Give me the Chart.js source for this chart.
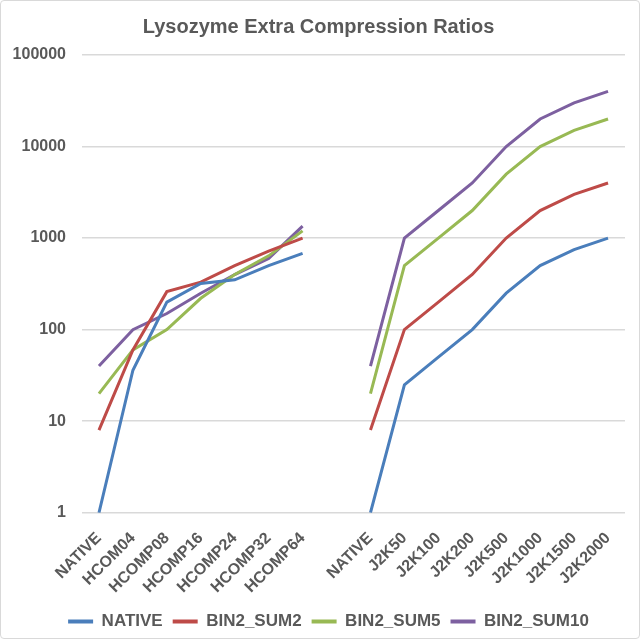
<!DOCTYPE html>
<html>
<head>
<meta charset="utf-8">
<script src="https://cdn.jsdelivr.net/npm/chart.js@4"></script>
<style>
  html, body { margin: 0; padding: 0; background: #fff; }
  #wrap { position: relative; width: 638px; height: 637px; border: 1px solid #d9d9d9; border-radius: 4px; }
</style>
</head>
<body>
<div id="wrap"><canvas id="chart"></canvas></div>
<script>
// categories (index 7 is the empty gap between the two groups)
const categories = ['NATIVE', 'HCOM04', 'HCOMP08', 'HCOMP16', 'HCOMP24', 'HCOMP32', 'HCOMP64', '',
    'NATIVE', 'J2K50', 'J2K100', 'J2K200', 'J2K500', 'J2K1000', 'J2K1500', 'J2K2000'];

const nativeVals = [1, 36, 200, 320, 350, 500, 680, null, 1, 25, 50, 100, 250, 500, 750, 1000];
const sum2Vals = [8, 60, 260, 330, 500, 720, 1000, null, 8, 100, 200, 400, 1000, 2000, 3000, 4000];
const sum5Vals = [20, 60, 100, 220, 400, 640, 1200, null, 20, 500, 1000, 2000, 5000, 10000, 15000, 20000];
const sum10Vals = [40, 100, 150, 250, 400, 600, 1350, null, 40, 1000, 2000, 4000, 10000, 20000, 30000, 40000];

const yTicks = [1, 10, 100, 1000, 10000, 100000];

const textColor = '#595959';
const fontFamily = '"Liberation Sans", Arial, sans-serif';

function series(label, data, color) {
    return {
        label: label,
        data: data,
        borderColor: color,
        backgroundColor: color,
        borderWidth: 3,
        pointRadius: 0,
        tension: 0,
        spanGaps: false
    };
}

// nudge the legend a little, like the original
const legendShift = {
    id: 'legendShift',
    afterLayout: function(chart) {
        if (chart.legend) {
            chart.legend.left += 10;
            chart.legend.right += 10;
            chart.legend.top -= 2;
            chart.legend.bottom -= 2;
        }
    }
};

new Chart(document.getElementById('chart'), {
    type: 'line',
    data: {
        labels: categories,
        datasets: [
            series('NATIVE', nativeVals, '#4a7ebb'),
            series('BIN2_SUM2', sum2Vals, '#be4b48'),
            series('BIN2_SUM5', sum5Vals, '#98b954'),
            series('BIN2_SUM10', sum10Vals, '#7d60a0')
        ]
    },
    plugins: [legendShift],
    options: {
        responsive: true,
        maintainAspectRatio: false,
        animation: false,
        layout: { padding: { left: 11, right: 14, top: 5, bottom: -4 } },
        scales: {
            x: {
                offset: true,
                afterFit: function(scale) {
                    scale.paddingLeft = 0;
                    scale.paddingRight = 0;
                },
                grid: { display: false },
                border: { display: false },
                ticks: {
                    color: textColor,
                    autoSkip: false,
                    maxRotation: 45,
                    minRotation: 45,
                    padding: 8,
                    font: { family: fontFamily, size: 16, weight: 'bold' }
                }
            },
            y: {
                type: 'logarithmic',
                min: 1,
                max: 100000,
                afterBuildTicks: function(axis) {
                    axis.ticks = yTicks.map(v => ({ value: v }));
                },
                afterFit: function(axis) {
                    axis.width = 70;
                },
                grid: { color: '#d9d9d9', lineWidth: 1.5, drawTicks: false },
                border: { display: false },
                ticks: {
                    color: textColor,
                    padding: 16,
                    callback: v => String(v),
                    font: { family: fontFamily, size: 16, weight: 'bold' }
                }
            }
        },
        plugins: {
            title: {
                display: true,
                text: 'Lysozyme Extra Compression Ratios',
                color: textColor,
                padding: { top: 9, bottom: 16 },
                font: { family: fontFamily, size: 20, weight: 'bold' }
            },
            legend: {
                position: 'bottom',
                labels: {
                    color: textColor,
                    boxWidth: 25,
                    boxHeight: 4,
                    padding: 10,
                    font: { family: fontFamily, size: 17, weight: 'bold' },
                    generateLabels: function(chart) {
                        return Chart.defaults.plugins.legend.labels.generateLabels(chart)
                            .map(item => Object.assign(item, { lineWidth: 0 }));
                    }
                }
            },
            tooltip: { enabled: false }
        }
    }
});
</script>
</body>
</html>
